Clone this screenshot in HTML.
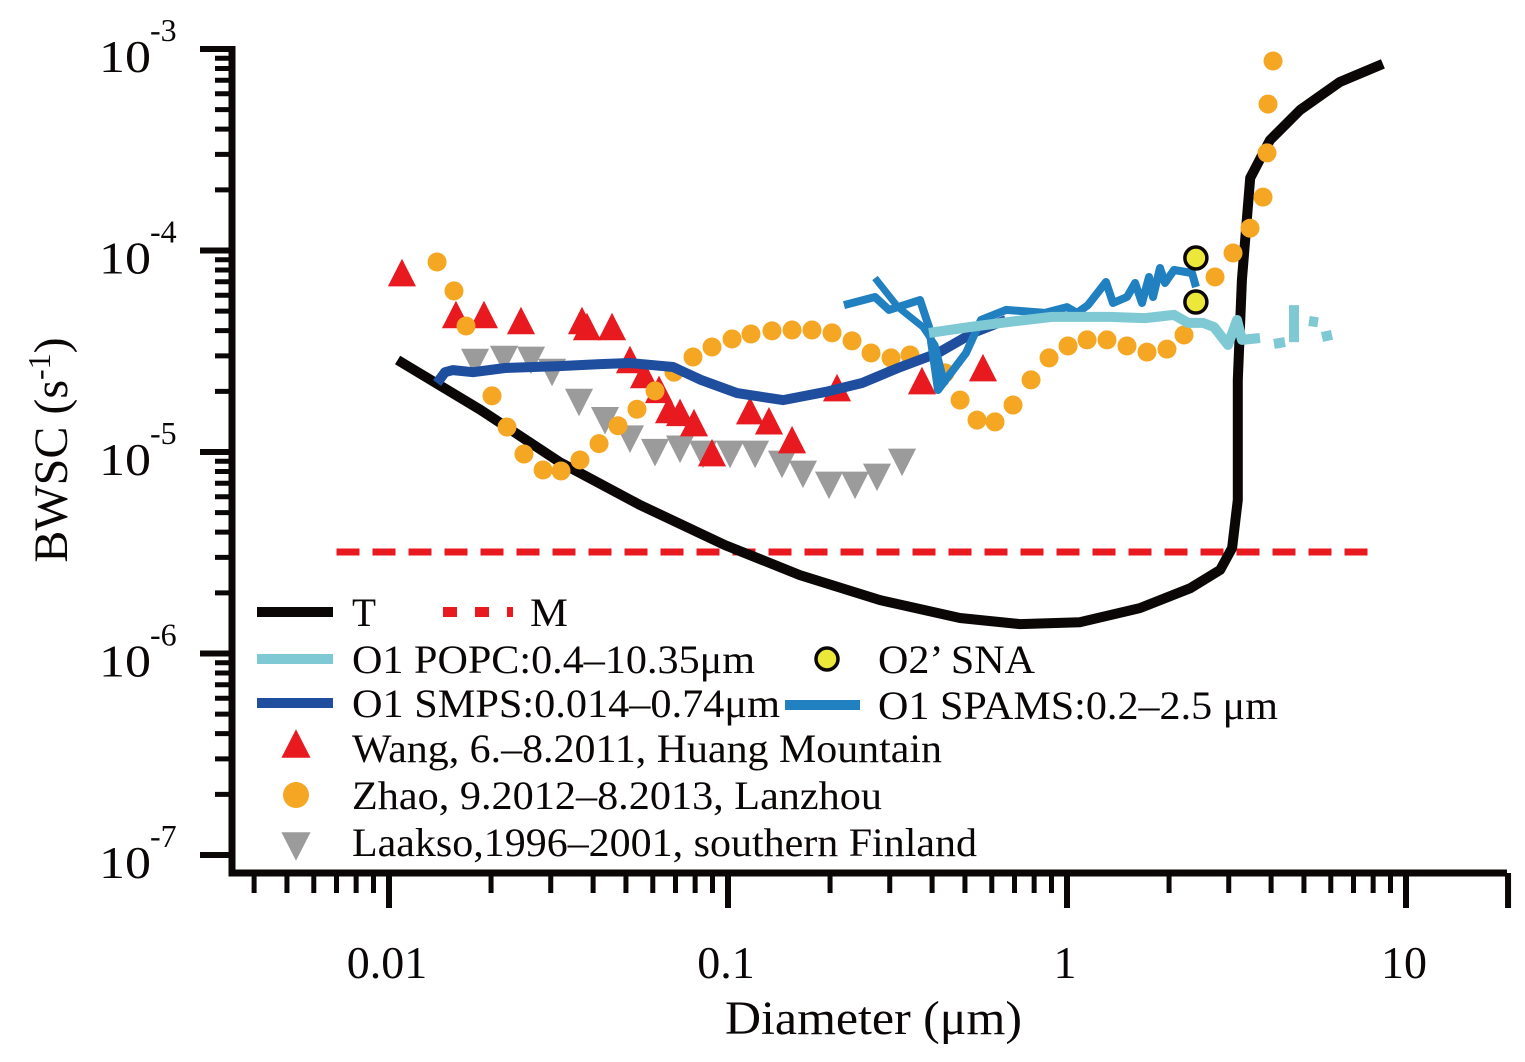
<!DOCTYPE html>
<html><head><meta charset="utf-8"><style>
html,body{margin:0;padding:0;background:#fff;}
svg{display:block;font-family:"Liberation Serif",serif;}
</style></head><body>
<svg id="chart" width="1525" height="1062" viewBox="0 0 1525 1062" xmlns="http://www.w3.org/2000/svg">
<g id="marks"></g>
<g id="axes"></g>
<g id="legend"></g>
</svg>
<script>
// ---- data ----
const tD=[0.0106,0.0186,0.0319,0.055,0.098,0.163,0.281,0.483,0.726,1.09,1.64,2.31,2.83,3.07,3.19,3.19,3.28,3.47,3.97,4.87,6.38,8.55];
const tV=[2.86e-5,1.62e-5,8.9e-6,5.46e-6,3.45e-6,2.45e-6,1.84e-6,1.50e-6,1.40e-6,1.43e-6,1.68e-6,2.11e-6,2.60e-6,3.34e-6,5.78e-6,2.28e-5,7.14e-5,2.29e-4,3.53e-4,4.98e-4,6.86e-4,8.43e-4];
const mD=[0.0070,7.83];
const mV=[3.19e-6,3.19e-6];
const smpsD=[0.01386,0.01463,0.01545,0.01769,0.02199,0.03173,0.04194,0.05139,0.06882,0.08325,0.1063,0.1453,0.1946,0.2486,0.3173,0.4164,0.5281,0.6610];
const smpsV=[2.20e-5,2.49e-5,2.55e-5,2.49e-5,2.61e-5,2.67e-5,2.73e-5,2.765e-5,2.64e-5,2.28e-5,1.96e-5,1.81e-5,1.99e-5,2.20e-5,2.61e-5,3.10e-5,3.90e-5,4.52e-5];
const popcD=[0.3916,0.5176,0.6745,0.9033,1.339,1.699,2.068,2.275,2.519,2.714,2.985,3.173,3.283,3.709,null,4.079,4.396,null,4.673,4.673,null,5.176,5.501,null,5.652,6.049];
const popcV=[3.90e-5,4.17e-5,4.42e-5,4.68e-5,4.68e-5,4.62e-5,4.79e-5,4.37e-5,4.37e-5,4.17e-5,3.40e-5,4.52e-5,3.60e-5,3.68e-5,null,3.44e-5,3.51e-5,null,5.36e-5,3.51e-5,null,4.47e-5,4.40e-5,null,3.72e-5,3.81e-5];
const spamsD=[0.2199,0.2714,0.2985,0.3685,0.3916,0.4164,0.5036,0.5577,0.6610,0.8612,1.000,1.070,1.153,1.303,1.367,1.503,1.588,1.664,1.745,1.793,1.881,1.946,2.068,2.337,2.402];
const spamsV=[5.36e-5,5.88e-5,5.07e-5,5.68e-5,4.17e-5,2.03e-5,3.10e-5,4.52e-5,5.07e-5,4.90e-5,5.24e-5,4.90e-5,5.36e-5,6.98e-5,5.49e-5,5.88e-5,6.90e-5,5.49e-5,7.39e-5,5.88e-5,8.19e-5,6.90e-5,8.00e-5,7.73e-5,6.59e-5];
const spams2D=[0.2714,0.3173,0.3759,0.4080,0.4366];
const spams2V=[7.30e-5,5.24e-5,4.17e-5,3.40e-5,2.15e-5];
const wangD=[0.01092,0.01576,0.01906,0.02451,0.03709,0.03837,0.04549,0.05139,0.05653,0.06259,0.06699,0.07219,0.07937,0.0897,0.1161,0.1321,0.1545,0.2097,0.3734,0.5651];
const wangV=[7.56e-5,4.68e-5,4.68e-5,4.37e-5,4.37e-5,4.08e-5,4.08e-5,2.80e-5,2.36e-5,1.99e-5,1.58e-5,1.53e-5,1.36e-5,9.66e-6,1.56e-5,1.39e-5,1.12e-5,2.03e-5,2.20e-5,2.55e-5];
const zhaoD=[0.01386,0.01555,0.01687,0.02013,0.02229,0.02501,0.02847,0.03217,0.03659,0.04164,0.04737,0.05389,0.06091,0.06929,0.07884,0.0897,0.1028,0.1169,0.1348,0.1545,0.1769,0.2027,0.2322,0.2642,0.3026,0.3443,0.4366,0.4836,0.5427,0.6133,0.6930,0.7832,0.8851,1.007,1.146,1.312,1.503,1.722,1.972,2.214,2.733,3.089,3.466,3.786,3.890,3.917,4.053];
const zhaoV=[8.77e-5,6.30e-5,4.22e-5,1.90e-5,1.33e-5,9.77e-6,8.14e-6,8.05e-6,9.13e-6,1.10e-5,1.35e-5,1.63e-5,2.01e-5,2.49e-5,2.96e-5,3.32e-5,3.64e-5,3.85e-5,3.99e-5,4.03e-5,4.03e-5,3.90e-5,3.56e-5,3.10e-5,2.93e-5,3.03e-5,2.47e-5,1.81e-5,1.44e-5,1.41e-5,1.71e-5,2.28e-5,2.93e-5,3.36e-5,3.60e-5,3.60e-5,3.36e-5,3.13e-5,3.24e-5,3.81e-5,7.39e-5,9.72e-5,1.29e-4,1.84e-4,3.05e-4,5.33e-4,8.72e-4];
const laaksoD=[0.01794,0.02184,0.02624,0.03026,0.03635,0.04337,0.05139,0.06091,0.07219,0.08439,0.1014,0.1202,0.1443,0.1664,0.1986,0.2370,0.2751,0.3261];
const laaksoV=[2.86e-5,2.96e-5,2.93e-5,2.55e-5,1.81e-5,1.47e-5,1.19e-5,1.02e-5,1.06e-5,1.00e-5,1.00e-5,1.00e-5,8.92e-6,7.96e-6,7.02e-6,7.02e-6,7.69e-6,9.13e-6];
const snaD=[2.40,2.40];
const snaV=[9.18e-5,5.55e-5];
const xTickLabels=["0.01","0.1","1","10"];
const xTickVals=[0.01,0.1,1,10];
const yTickExp=["-3","-4","-5","-6","-7"];
const yTickVals=[1e-3,1e-4,1e-5,1e-6,1e-7];

// ---- scales ----
const X=d=>389+(Math.log10(d)+2)*339;
const Y=v=>49+(-3-Math.log10(v))*201.5;
const NS="http://www.w3.org/2000/svg";
function mk(tag,attrs,parent){const e=document.createElementNS(NS,tag);for(const k in attrs)e.setAttribute(k,attrs[k]);parent.appendChild(e);return e;}
const marks=document.getElementById('marks'),axes=document.getElementById('axes'),legend=document.getElementById('legend');

function pathOf(D,V){let s="",pen=false;for(let i=0;i<D.length;i++){if(D[i]==null){pen=false;continue;}s+=(pen?"L":"M")+X(D[i]).toFixed(1)+" "+Y(V[i]).toFixed(1);pen=true;}return s;}
function line(D,V,color,w,name,extra){const p=mk('path',Object.assign({d:pathOf(D,V),fill:'none',stroke:color,'stroke-width':w,'stroke-linejoin':'round','stroke-linecap':'butt'},extra||{}),marks);

return p;}

line(mD,mV,'#e8191f',7,'m-dashed-line',{'stroke-dasharray':'23 13'});
line(tD,tV,'#0a0706',10,'t-curve');
function triUp(x,y,s){return `M${x} ${y-s*0.6}L${x+s*0.52} ${y+s*0.42}L${x-s*0.52} ${y+s*0.42}Z`;}
function triDown(x,y,s){return `M${x} ${y+s*0.6}L${x+s*0.52} ${y-s*0.42}L${x-s*0.52} ${y-s*0.42}Z`;}
for(let i=0;i<laaksoD.length;i++){const e=mk('path',{d:triDown(X(laaksoD[i]),Y(laaksoV[i]),27),fill:'#9b9b9b'},marks);

}
for(let i=0;i<wangD.length;i++){const e=mk('path',{d:triUp(X(wangD[i]),Y(wangV[i]),27),fill:'#e8191f'},marks);

}
for(let i=0;i<zhaoD.length;i++){const e=mk('circle',{cx:X(zhaoD[i]),cy:Y(zhaoV[i]),r:9.5,fill:'#f5a623'},marks);

}
line(smpsD,smpsV,'#1f4e9e',10,'smps-line');
line(spams2D,spams2V,'#2080c0',7,'spams-line-2');
line(spamsD,spamsV,'#2080c0',8,'spams-line');
line(popcD,popcV,'#7ec9d4',10,'popc-line');
for(let i=0;i<snaD.length;i++){const e=mk('circle',{cx:X(snaD[i]),cy:Y(snaV[i]),r:11,fill:'#ebe83a',stroke:'#0a0706','stroke-width':3.5},marks);

}

// ---- axes ----
const ax0=232,ay0=873,axR=1507,ayT=46;
let a=mk('path',{d:`M${ax0} ${ayT}V${ay0}H${axR}`,fill:'none',stroke:'#0a0706','stroke-width':7},axes);


for(let e=-7;e<=-3;e++){
  const yy=Y(Math.pow(10,e));
  const t=mk('line',{x1:200,x2:ax0,y1:yy,y2:yy,stroke:'#0a0706','stroke-width':6},axes);
  
  
  if(e<-3){for(let m=2;m<=9;m++){const ym=Y(m*Math.pow(10,e));const tm=mk('line',{x1:215,x2:ax0,y1:ym,y2:ym,stroke:'#0a0706','stroke-width':5},axes);
    
    }}
}
yTickVals.forEach((v,i)=>{const yy=Y(v);
  const t=mk('text',{x:99,y:yy+23,'font-size':46,fill:'#0a0706',textLength:52,lengthAdjust:'spacingAndGlyphs'},axes);t.textContent='10';
  
  
  const s=mk('text',{x:150,y:yy-8,'font-size':32,fill:'#0a0706'},axes);s.textContent=yTickExp[i];
  
  });
for(let e=-3;e<=1;e++){for(let m=1;m<=9;m++){const v=m*Math.pow(10,e);const xx=X(v);if(xx<ax0+10||xx>axR+2)continue;
  const t=mk('line',{x1:xx,x2:xx,y1:ay0,y2:m===1?908:893,stroke:'#0a0706','stroke-width':m===1?6:5},axes);
  
  }}
{const xx=X(20);const t=mk('line',{x1:xx,x2:xx,y1:ay0,y2:908,stroke:'#0a0706','stroke-width':6},axes);

}
xTickVals.forEach((v,i)=>{const t=mk('text',{x:X(v)-2,y:978,'font-size':46,'text-anchor':'middle',fill:'#0a0706'},axes);t.textContent=xTickLabels[i];
  
  });
let xt=mk('text',{x:725,y:1034,'font-size':48,fill:'#0a0706',textLength:297,lengthAdjust:'spacingAndGlyphs'},axes);xt.textContent='Diameter (μm)';


let yt=mk('text',{x:0,y:0,'font-size':48,'text-anchor':'middle',fill:'#0a0706',transform:'translate(67,450) rotate(-90)'},axes);
yt.innerHTML='BWSC (s<tspan dy="-17" font-size="32">-1</tspan><tspan dy="17">)</tspan>';



// ---- legend ----
function ltext(x,y,str,w,name){const t=mk('text',{x:x,y:y+14,'font-size':40,fill:'#0a0706',textLength:w,lengthAdjust:'spacingAndGlyphs'},legend);t.textContent=str;
  
  }
function lline(x1,x2,y,color,name,dash){const l=mk('line',{x1:x1,x2:x2,y1:y,y2:y,stroke:color,'stroke-width':10},legend);if(dash)l.setAttribute('stroke-dasharray',dash);
  
  }
lline(257,333,612,'#0a0706','legend-t-swatch');ltext(352,612,'T',24,'legend-t-label');
lline(443,513,612,'#e8191f','legend-m-swatch','14 18');ltext(530,612,'M',38,'legend-m-label');
lline(257,333,659,'#7ec9d4','legend-popc-swatch');ltext(352,659,'O1 POPC:0.4–10.35μm',403,'legend-popc-label');
lline(257,333,703,'#1f4e9e','legend-smps-swatch');ltext(352,703,'O1 SMPS:0.014–0.74μm',428,'legend-smps-label');
lline(785,860,705,'#2080c0','legend-spams-swatch');ltext(878,705,'O1 SPAMS:0.2–2.5 μm',400,'legend-spams-label');
{const c=mk('circle',{cx:827,cy:659,r:11,fill:'#ebe83a',stroke:'#0a0706','stroke-width':3.5},legend);

}
ltext(878,659,'O2’ SNA',157,'legend-sna-label');
{const p=mk('path',{d:triUp(296,746,28),fill:'#e8191f'},legend);

}
ltext(352,748,'Wang, 6.–8.2011, Huang Mountain',590,'legend-wang-label');
{const c=mk('circle',{cx:296,cy:795,r:13,fill:'#f5a623'},legend);

}
ltext(352,795,'Zhao, 9.2012–8.2013, Lanzhou',530,'legend-zhao-label');
{const p=mk('path',{d:triDown(296,844,28),fill:'#9b9b9b'},legend);

}
ltext(352,842,'Laakso,1996–2001, southern Finland',625,'legend-laakso-label');
</script>
</body></html>
